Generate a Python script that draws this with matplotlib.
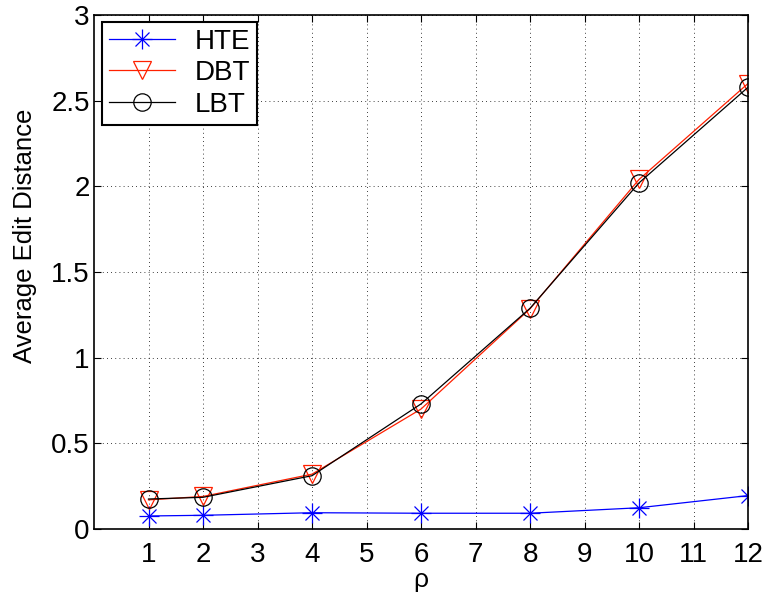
import matplotlib
matplotlib.use("Agg")
import matplotlib.pyplot as plt
from matplotlib.legend_handler import HandlerTuple

rho = [1, 2, 4, 6, 8, 10, 12]
hte = [0.076, 0.080, 0.095, 0.092, 0.092, 0.124, 0.195]
dbt = [0.17, 0.19, 0.32, 0.70, 1.285, 2.04, 2.60]
lbt = [0.175, 0.185, 0.311, 0.73, 1.288, 2.02, 2.578]
xticks = list(range(1, 13))
yticks = [0, 0.5, 1, 1.5, 2, 2.5, 3]
ytick_labels = ["0", "0.5", "1", "1.5", "2", "2.5", "3"]

plt.rcParams['font.family'] = ['Liberation Sans', 'DejaVu Sans']

fig = plt.figure(figsize=(7.67, 5.99), dpi=100)
ax = fig.add_axes([94/767, 70/599, (748-94)/767, (529-15)/599])

h1, = ax.plot(rho, hte, color='#0000ff', marker='+', markersize=14,
              markeredgewidth=0.9, linewidth=0.9)
h1b, = ax.plot(rho, hte, color='#0000ff', marker='x', markersize=10,
               markeredgewidth=0.9, linestyle='none')
h2, = ax.plot(rho, dbt, color='#ff2000', marker='v', markersize=13, markerfacecolor='none',
              markeredgewidth=0.9, linewidth=0.9)
h3, = ax.plot(rho, lbt, color='black', marker='o', markersize=12.5, markerfacecolor='none',
              markeredgewidth=0.9, linewidth=0.9)

ax.set_xlim(0, 12)
ax.set_ylim(0, 3)
ax.set_xticks(xticks)
ax.set_xticklabels([str(t) for t in xticks])
ax.set_yticks(yticks)
ax.set_yticklabels(ytick_labels)
ax.tick_params(direction='in', top=True, right=True, labelsize=20, length=5, width=0.8)
ax.tick_params(axis='x', pad=9)
ax.tick_params(axis='y', pad=3)
ax.grid(True, linestyle=(0, (1, 4)), color='black', linewidth=0.6)
for s in ax.spines.values():
    s.set_linewidth(1.2)

ax.set_xlabel('ρ', fontsize=19, labelpad=0)
ax.set_ylabel('Average Edit Distance', fontsize=18.5)
ax.yaxis.set_label_coords(-0.087, 0.57)

leg = ax.legend([(h1, h1b), h2, h3], ['HTE', 'DBT', 'LBT'],
                handler_map={tuple: HandlerTuple(ndivide=1, pad=0)},
                loc='upper left', bbox_to_anchor=(0.012, 0.987), fontsize=20, fancybox=False,
                edgecolor='black', framealpha=1, handlelength=2.4, borderpad=0.25,
                labelspacing=0.2, handletextpad=0.7, borderaxespad=0)
leg.get_frame().set_linewidth(1.5)

fig.savefig('out.png', dpi=100)
